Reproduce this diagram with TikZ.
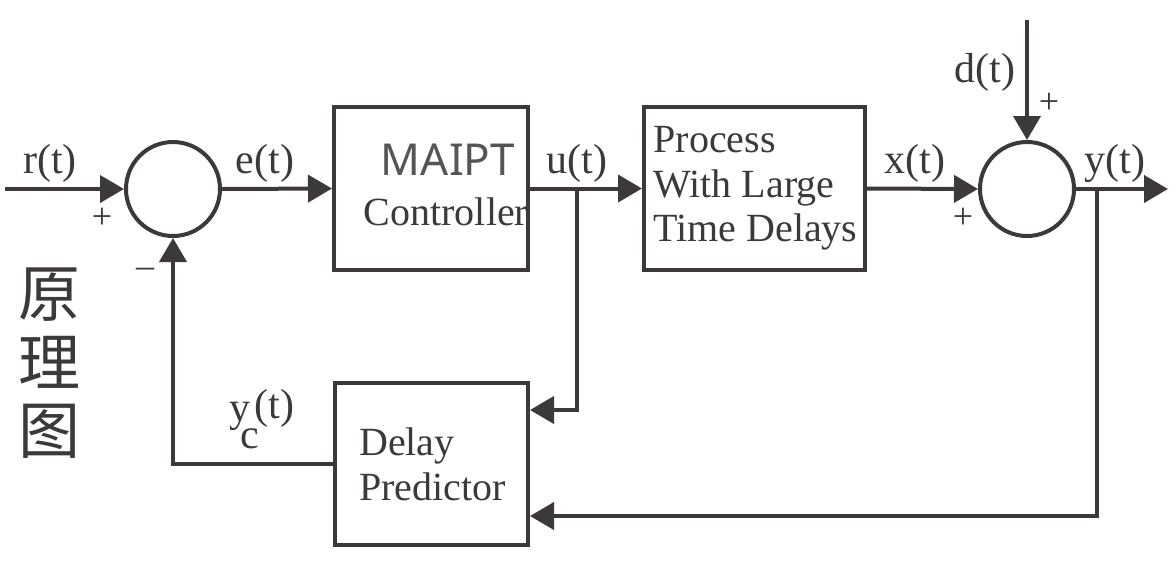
\documentclass[tikz,border=0pt]{standalone}
\usepackage{fontspec}
\setmainfont{Liberation Serif}
\newfontfamily\sansf{Noto Sans}
\newfontfamily\cjk{Noto Sans CJK SC}
\usetikzlibrary{arrows.meta}
\definecolor{ink}{HTML}{3D3939}
\definecolor{inkgray}{HTML}{555555}
\begin{document}
\begin{tikzpicture}[x=1pt,y=-1pt,
  every node/.style={text=ink},
  lbl/.style={font=\fontsize{42}{46}\selectfont, inner sep=0pt},
  sgn/.style={font=\fontsize{36}{40}\selectfont, inner sep=0pt},
  blk/.style={draw=ink, line width=4pt, inner sep=0pt},
  sumnode/.style={draw=ink, circle, line width=4pt, minimum size=94pt, inner sep=0pt},
  arr/.style={draw=ink, line width=4pt, -{Triangle[length=24pt,width=27pt]}},
  ln/.style={draw=ink, line width=4pt}]
\useasboundingbox (0,0) rectangle (1176,582);
% blocks
\node[sumnode] (s1) at (173,189) {};
\node[sumnode] (s2) at (1027,189) {};
\node[blk, minimum width=194pt, minimum height=163pt] (ctrl) at (431,188.5) {};
\node[blk, minimum width=221pt, minimum height=163pt, align=left,
      font=\fontsize{40}{44.5}\selectfont] (proc) at (754.5,188.5) {\hspace*{2pt}Process\\\hspace*{2pt}With Large\\\hspace*{2pt}Time Delays};
\node[blk, minimum width=193pt, minimum height=162pt, align=left,
      font=\fontsize{40}{45}\selectfont] (pred) at (431.5,464) {\hspace*{2pt}Delay\\\hspace*{2pt}Predictor};
\node[inner sep=0pt, font=\sansf\fontsize{44}{50}\selectfont, text=inkgray] (maipt) at (448,160) {MAIPT};
\node[inner sep=0pt, font=\fontsize{40}{44}\selectfont] (ctrltxt) at (446,212) {Controller};
% free ends
\coordinate (rin) at (5,189);
\coordinate (din) at (1027,20);
\coordinate (yout) at (1168,189);
\coordinate (ub) at (577,189);
\coordinate (yb) at (1097,189);
% connectors
\draw[arr] (rin) -- (s1.west);
\draw[arr] (s1.east) -- (ctrl.west);
\draw[arr] (ctrl.east) -- (proc.west);
\draw[arr] (proc.east) -- (s2.west);
\draw[arr] (din) -- (s2.north);
\draw[arr] (s2.east) -- (yout);
\draw[arr] (ub) |- ([yshift=54pt]pred.east);
\draw[arr] (yb) |- ([yshift=-52pt]pred.east);
\draw[arr] (pred.west) -| (s1.south);
% labels
\node[lbl] (rl) at (50,163) {r(t)};
\node[lbl] (el) at (265,163) {e(t)};
\node[lbl] (ul) at (577,163) {u(t)};
\node[lbl] (xl) at (915,163) {x(t)};
\node[lbl] (yl) at (1115,163) {y(t)};
\node[lbl] (dl) at (985,72) {d(t)};
\node[sgn] (p1) at (102,218) {+};
\node[sgn] (p2) at (963,218) {+};
\node[sgn] (p3) at (1049,103) {+};
\node[sgn] (m1) at (145,273) {\textendash};
\node[lbl, anchor=base west] (yc) at (229.5,421) {y\kern-9.8pt\raisebox{-27pt}{c}\kern-5pt\raisebox{3pt}{(t)}};
% chinese
\node[inner sep=0pt, font=\cjk\fontsize{62}{62}\selectfont] (c1) at (49,295) {原};
\node[inner sep=0pt, font=\cjk\fontsize{62}{62}\selectfont] (c2) at (49,362) {理};
\node[inner sep=0pt, font=\cjk\fontsize{62}{62}\selectfont] (c3) at (49,431) {图};
\end{tikzpicture}
\end{document}
